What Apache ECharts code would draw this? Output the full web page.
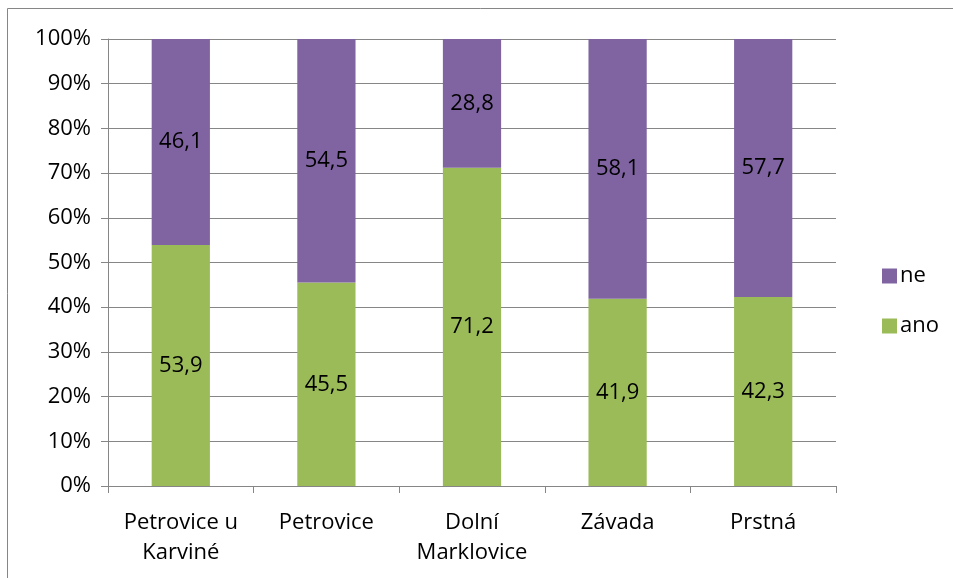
<!DOCTYPE html>
<html>
<head>
<meta charset="utf-8">
<script src="https://cdn.jsdelivr.net/npm/echarts@6/dist/echarts.min.js"></script>
<style>
  html, body { margin: 0; padding: 0; background: #fff; }
  #main { width: 953px; height: 578px; }
</style>
</head>
<body>
<div id="main"></div>
<script>
// obce a hodnoty (%)
const categories = ['Petrovice u\nKarviné', 'Petrovice', 'Dolní\nMarklovice', 'Závada', 'Prstná'];
const anoValues = [53.9, 45.5, 71.2, 41.9, 42.3];
const neValues = [46.1, 54.5, 28.8, 58.1, 57.7];
const yTicks = [0, 10, 20, 30, 40, 50, 60, 70, 80, 90, 100];

const font = '"Open Sans", "DejaVu Sans", sans-serif';
const fs = 22;
const fmt = p => String(p.value).replace('.', ',');

const myChart = echarts.init(document.getElementById('main'));
let option = {
    animation: false,
    backgroundColor: '#fff',
    textStyle: { fontFamily: font },
    graphic: [{
        type: 'rect',
        shape: { x: 7.5, y: 8.5, width: 1000, height: 1000 },
        style: { fill: 'none', stroke: '#868686', lineWidth: 1 }
    }],
    grid: { left: 108, right: 117, top: 39, bottom: 92 },
    legend: {
        orient: 'vertical',
        left: 877,
        top: 260,
        itemWidth: 15,
        itemHeight: 15,
        itemGap: 28,
        icon: 'rect',
        data: ['ne', 'ano'],
        textStyle: { fontSize: fs, color: '#000', fontFamily: font, padding: [0, 0, 0, -2] }
    },
    xAxis: {
        type: 'category',
        data: categories,
        axisLine: { lineStyle: { color: '#868686', width: 1 } },
        axisTick: { show: true, interval: 0, length: 7, lineStyle: { color: '#868686' } },
        axisLabel: { interval: 0, hideOverlap: false, fontSize: fs, color: '#000', margin: 22, lineHeight: 30, fontFamily: font }
    },
    yAxis: {
        type: 'value',
        min: 0,
        max: 100,
        interval: 10,
        axisLine: { show: true, lineStyle: { color: '#868686' } },
        axisTick: { show: true, length: 7, lineStyle: { color: '#868686' } },
        splitLine: { lineStyle: { color: '#868686', width: 1 } },
        axisLabel: {
            fontSize: fs, color: '#000', margin: 17, fontFamily: font,
            formatter: v => yTicks.includes(v) ? v + '%' : ''
        }
    },
    series: [
        {
            name: 'ano',
            type: 'bar',
            stack: 'all',
            barWidth: '40%',
            data: anoValues,
            itemStyle: { color: '#9BBB59' },
            label: { show: true, position: 'inside', fontSize: fs, color: '#000', formatter: fmt, fontFamily: font }
        },
        {
            name: 'ne',
            type: 'bar',
            stack: 'all',
            barWidth: '40%',
            data: neValues,
            itemStyle: { color: '#8064A2' },
            label: { show: true, position: 'inside', fontSize: fs, color: '#000', formatter: fmt, fontFamily: font }
        }
    ]
};
option && myChart.setOption(option);
</script>
</body>
</html>
